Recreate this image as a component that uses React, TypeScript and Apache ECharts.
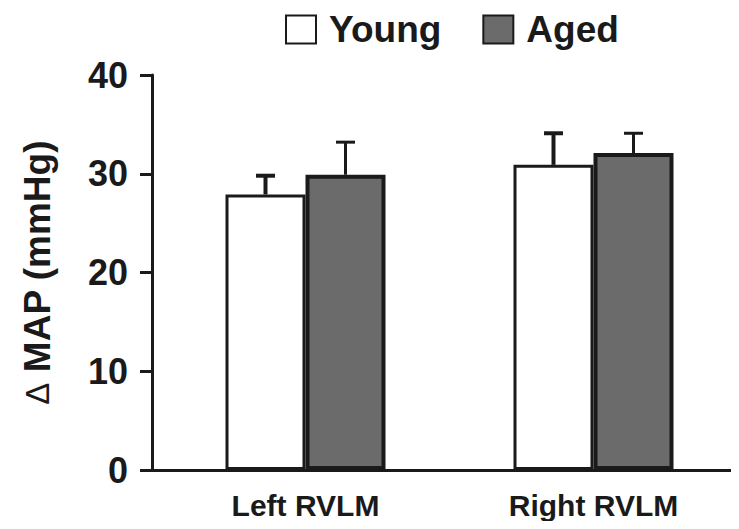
import React, { useEffect, useRef } from "react";
import * as echarts from "echarts";

const categories = ["Left RVLM", "Right RVLM"];
const seriesNames = ["Young", "Aged"];
const youngValues = [27.9, 30.9];
const agedValues = [29.9, 32.1];
const youngErrors = [1.9, 3.2];
const agedErrors = [3.3, 2.0];
const yTicks = [0, 10, 20, 30, 40];

const INK = "#1a1a1a";
const FONT = "'Liberation Sans', Arial, sans-serif";

function errorSeries(values: number[], errors: number[], side: number, width: number) {
  return {
    type: "custom",
    xAxisIndex: 0,
    yAxisIndex: 0,
    silent: true,
    z: 1,
    data: values.map((v, i) => [i, v, v + errors[i]]),
    renderItem: (params: any, api: any) => {
      const i = api.value(0);
      const base = api.coord([i, api.value(1)]);
      const top = api.coord([i, api.value(2)]);
      const x = base[0] + side * 40;
      return {
        type: "group",
        children: [
          {
            type: "line",
            shape: { x1: x, y1: base[1], x2: x, y2: top[1] },
            style: { stroke: INK, lineWidth: width },
          },
          {
            type: "line",
            shape: { x1: x - 9.5, y1: top[1], x2: x + 9.5, y2: top[1] },
            style: { stroke: INK, lineWidth: width },
          },
        ],
      };
    },
  };
}

export default function App() {
  const ref = useRef<HTMLDivElement>(null);
  useEffect(() => {
    if (!ref.current) return;
    const chart = echarts.init(ref.current, undefined, { renderer: "svg" });
    chart.setOption({
      animation: false,
      backgroundColor: "#ffffff",
      textStyle: { fontFamily: FONT },
      legend: {
        data: seriesNames,
        left: 280,
        top: 6,
        icon: "rect",
        itemWidth: 30,
        itemHeight: 28,
        itemGap: 41,
        textStyle: {
          fontFamily: FONT,
          fontWeight: "bold",
          fontSize: 37,
          color: INK,
          padding: [0, 0, 0, 8],
        },
      },
      grid: [
        { left: 161.5, right: 1.5, top: 75, bottom: 59 },
        { left: 152, right: 0, top: 75, bottom: 59 },
      ],
      xAxis: [
        {
          type: "category",
          gridIndex: 0,
          data: categories,
          axisLine: { show: false },
          axisTick: { show: false },
          axisLabel: {
            margin: 20,
            fontFamily: FONT,
            fontWeight: "bold",
            fontSize: 30,
            color: INK,
          },
        },
        {
          type: "value",
          gridIndex: 1,
          min: 0,
          max: 1,
          axisLine: { show: true, lineStyle: { color: INK, width: 3 } },
          axisTick: { show: false },
          axisLabel: { show: false },
          splitLine: { show: false },
        },
      ],
      yAxis: [
        {
          type: "value",
          gridIndex: 0,
          min: yTicks[0],
          max: yTicks[yTicks.length - 1],
          interval: 10,
          offset: 9.5,
          name: "{d|Δ} MAP (mmHg)",
          nameLocation: "middle",
          nameRotate: 90,
          nameGap: 96,
          nameTextStyle: {
            fontFamily: FONT,
            fontWeight: "bold",
            fontSize: 37,
            color: INK,
            rich: {
              d: { fontFamily: FONT, fontWeight: "normal", fontSize: 33, color: INK },
            },
          },
          axisLine: { show: true, lineStyle: { color: INK, width: 3 } },
          axisTick: { show: true, length: 12, lineStyle: { color: INK, width: 3 } },
          axisLabel: {
            margin: 24,
            fontFamily: FONT,
            fontWeight: "bold",
            fontSize: 36,
            color: INK,
          },
          splitLine: { show: false },
        },
        {
          type: "value",
          gridIndex: 1,
          min: 0,
          max: 40,
          show: false,
        },
      ],
      series: [
        {
          name: "Young",
          type: "bar",
          xAxisIndex: 0,
          yAxisIndex: 0,
          data: youngValues,
          barWidth: 80,
          barGap: "0%",
          z: 2,
          itemStyle: { color: "#ffffff", borderColor: INK, borderWidth: 3 },
        },
        {
          name: "Aged",
          type: "bar",
          xAxisIndex: 0,
          yAxisIndex: 0,
          data: agedValues,
          barWidth: 80,
          barGap: "0%",
          z: 2,
          itemStyle: { color: "#6b6b6b", borderColor: INK, borderWidth: 4 },
        },
        errorSeries(youngValues, youngErrors, -1, 4),
        errorSeries(agedValues, agedErrors, 1, 3),
      ],
    });
    return () => chart.dispose();
  }, []);
  return <div ref={ref} style={{ width: 739, height: 529, margin: -8 }} />;
}
